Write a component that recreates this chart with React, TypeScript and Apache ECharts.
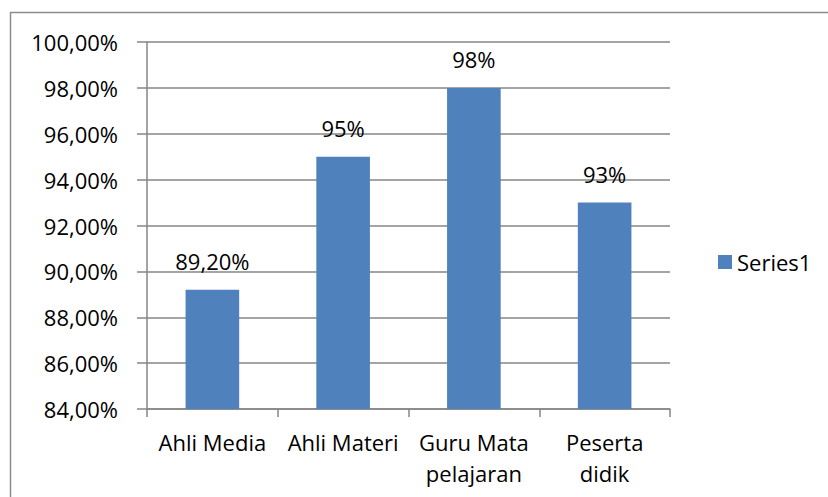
import React, { useEffect, useRef } from "react";
import * as echarts from "echarts";

const categories = ["Ahli Media", "Ahli Materi", "Guru Mata\npelajaran", "Peserta\ndidik"];
const values = [89.2, 95, 98, 93];
const valueLabels = ["89,20%", "95%", "98%", "93%"];
const seriesName = "Series1";
const yMin = 84;
const yMax = 100;
const yStep = 2;

const FONT = "'Open Sans', sans-serif";
const GRAY = "#868686";

export default function App() {
  const ref = useRef<HTMLDivElement>(null);
  useEffect(() => {
    document.body.style.margin = "0";
    const chart = echarts.init(ref.current!, null, { renderer: "svg" });
    chart.setOption({
      animation: false,
      backgroundColor: "#ffffff",
      textStyle: { fontFamily: FONT },
      graphic: [
        {
          type: "rect",
          shape: { x: 10.5, y: 12.5, width: 840, height: 520 },
          style: { fill: "none", stroke: "#8c8c8c", lineWidth: 1.5 },
          silent: true,
        },
      ],
      grid: { left: 147, right: 158, top: 42, bottom: 88 },
      legend: {
        data: [seriesName],
        left: 713,
        top: 246,
        itemWidth: 14,
        itemHeight: 14,
        itemGap: 8,
        icon: "rect",
        textStyle: { fontFamily: FONT, fontSize: 22, color: "#000" },
      },
      xAxis: {
        type: "category",
        data: categories,
        axisLine: { show: true, lineStyle: { color: GRAY, width: 1.5 } },
        axisTick: { show: true, length: 8, interval: 0, lineStyle: { color: GRAY, width: 1.5 } },
        axisLabel: {
          interval: 0,
          margin: 17,
          fontFamily: FONT,
          fontSize: 22,
          lineHeight: 31,
          color: "#000",
        },
      },
      yAxis: {
        type: "value",
        min: yMin,
        max: yMax,
        interval: yStep,
        axisLine: { show: true, lineStyle: { color: GRAY, width: 1.5 } },
        axisTick: { show: true, length: 10, lineStyle: { color: GRAY, width: 1.5 } },
        splitLine: { show: true, lineStyle: { color: GRAY, width: 1.5 } },
        axisLabel: {
          margin: 29,
          fontFamily: FONT,
          fontSize: 22,
          color: "#000",
          formatter: (v: number) => v.toFixed(2).replace(".", ",") + "%",
        },
      },
      series: [
        {
          name: seriesName,
          type: "bar",
          data: values,
          barWidth: "41%",
          itemStyle: { color: "#4F81BD" },
          label: {
            show: true,
            position: "top",
            distance: 18,
            fontFamily: FONT,
            fontSize: 22,
            color: "#000",
            formatter: (p: any) => valueLabels[p.dataIndex],
          },
        },
      ],
    });
    return () => chart.dispose();
  }, []);
  return <div ref={ref} style={{ width: 828, height: 497 }} />;
}
